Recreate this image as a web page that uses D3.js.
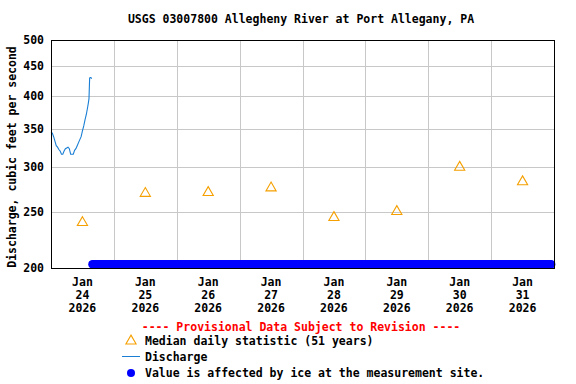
<!DOCTYPE html>
<html>
<head>
<meta charset="utf-8">
<script src="https://cdn.jsdelivr.net/npm/d3@7"></script>
<style>
  body { margin: 0; background: #fff; }
  text { font-family: "DejaVu Sans Mono", monospace; font-weight: bold; font-size: 11.5px; }
</style>
</head>
<body>
<div id="chart"></div>
<script>
// data
const days = ["2026-01-24", "2026-01-25", "2026-01-26", "2026-01-27", "2026-01-28", "2026-01-29", "2026-01-30", "2026-01-31"];
const medianValues = [241, 271, 272, 277, 246, 252, 301, 284];

const dischargeTimes = [
  "00:00", "00:30", "01:00", "01:30", "02:00", "02:30", "03:00", "03:30",
  "04:00", "04:30", "05:00", "05:30", "06:00", "06:30", "07:00", "07:30",
  "08:00", "08:30", "09:00", "09:30", "10:00", "10:30", "11:00", "11:30",
  "12:00", "12:30", "13:00", "13:30", "14:00", "14:15", "14:30", "14:45",
  "15:00", "15:15", "15:30"
];
const dischargeValues = [
  345, 344, 339, 333, 327, 325, 322, 320,
  316, 316, 320, 323, 324, 325, 323, 316,
  316, 316, 321, 323, 327, 331, 335, 339,
  347, 354, 363, 371, 382, 388, 395, 429,
  430, 430, 428
];

// ice-affected period (15-minute readings, drawn at the bottom)
const iceStart = "2026-01-24T15:45";
const iceEnd = "2026-01-31T23:15";
const iceValue = 203;

const yTicks = [200, 250, 300, 350, 400, 450, 500];

const width = 576, height = 384;
const plot = { left: 51, right: 554, top: 40, bottom: 268 };

const parseDay = d3.timeParse("%Y-%m-%d");
const parseTime = d3.timeParse("%Y-%m-%dT%H:%M");

const svg = d3.select("#chart")
    .append("svg")
    .attr("width", width)
    .attr("height", height);

const x = d3.scaleTime()
    .domain([parseDay("2026-01-24"), parseDay("2026-02-01")])
    .range([plot.left, plot.right]);

const y = d3.scaleLog()
    .domain([200, 500])
    .range([plot.bottom, plot.top]);

// grid
svg.append("g")
    .selectAll("line")
    .data(yTicks.slice(1, -1))
    .enter()
    .append("line")
    .attr("x1", plot.left).attr("x2", plot.right)
    .attr("y1", d => Math.round(y(d)) + 0.5).attr("y2", d => Math.round(y(d)) + 0.5)
    .attr("stroke", "#c8c8c8");

svg.append("g")
    .selectAll("line")
    .data(days.slice(1))
    .enter()
    .append("line")
    .attr("x1", d => Math.round(x(parseDay(d))) + 0.5).attr("x2", d => Math.round(x(parseDay(d))) + 0.5)
    .attr("y1", plot.top).attr("y2", plot.bottom)
    .attr("stroke", "#c8c8c8");

// y axis labels
svg.append("g")
    .selectAll("text")
    .data(yTicks)
    .enter()
    .append("text")
    .attr("x", 44)
    .attr("y", d => y(d) + 4)
    .style("text-anchor", "end")
    .text(d => d);

// x axis labels (three lines each)
const xLab = svg.append("g")
    .selectAll("text")
    .data(days)
    .enter()
    .append("text")
    .attr("transform", d => `translate(${x(d3.timeHour.offset(parseDay(d), 12))},286)`)
    .style("text-anchor", "middle");
xLab.append("tspan").attr("x", 0).attr("y", 0).text("Jan");
xLab.append("tspan").attr("x", 0).attr("y", 13).text(d => +d.slice(8));
xLab.append("tspan").attr("x", 0).attr("y", 26).text(d => d.slice(0, 4));

// discharge line
const line = d3.line()
    .x(d => x(d[0]))
    .y(d => y(d[1]));

svg.append("path")
    .datum(dischargeTimes.map((t, i) => [parseTime("2026-01-24T" + t), dischargeValues[i]]))
    .attr("d", line)
    .attr("fill", "none")
    .attr("stroke", "#1a7fd4")
    .attr("stroke-width", 1.1);

// median triangles
const tri = d3.symbol().type(d3.symbolTriangle).size(45);
svg.append("g")
    .selectAll("path")
    .data(days)
    .enter()
    .append("path")
    .attr("d", tri)
    .attr("transform", (d, i) => `translate(${x(d3.timeHour.offset(parseDay(d), 12))},${y(medianValues[i]) + 1})`)
    .attr("fill", "none")
    .attr("stroke", "#f5a000")
    .attr("stroke-width", 1.1);

// ice markers
const iceTimes = d3.timeMinute.every(15).range(parseTime(iceStart), parseTime(iceEnd));
svg.append("g")
    .selectAll("circle")
    .data(iceTimes)
    .enter()
    .append("circle")
    .attr("cx", d => x(d))
    .attr("cy", y(iceValue))
    .attr("r", 4)
    .attr("fill", "#0000ff");

// frame
svg.append("rect")
    .attr("x", plot.left + 0.5).attr("y", plot.top + 0.5)
    .attr("width", plot.right - plot.left).attr("height", plot.bottom - plot.top)
    .attr("fill", "none")
    .attr("stroke", "black");

// title
svg.append("text")
    .attr("x", 301)
    .attr("y", 23)
    .style("text-anchor", "middle")
    .text("USGS 03007800 Allegheny River at Port Allegany, PA");

// y axis title
svg.append("text")
    .attr("transform", "rotate(-90)")
    .attr("x", -157)
    .attr("y", 16)
    .style("text-anchor", "middle")
    .text("Discharge, cubic feet per second");

// provisional notice
svg.append("text")
    .attr("x", 301)
    .attr("y", 331)
    .style("text-anchor", "middle")
    .attr("fill", "#ff0000")
    .text("---- Provisional Data Subject to Revision ----");

// legend
const legend = svg.append("g");
legend.append("path")
    .attr("d", tri)
    .attr("transform", "translate(131,341)")
    .attr("fill", "none")
    .attr("stroke", "#f5a000")
    .attr("stroke-width", 1.1);
legend.append("text").attr("x", 145).attr("y", 345).text("Median daily statistic (51 years)");
legend.append("line")
    .attr("x1", 122).attr("x2", 140)
    .attr("y1", 356.5).attr("y2", 356.5)
    .attr("stroke", "#1a7fd4");
legend.append("text").attr("x", 145).attr("y", 361).text("Discharge");
legend.append("circle")
    .attr("cx", 131).attr("cy", 373)
    .attr("r", 4)
    .attr("fill", "#0000ff");
legend.append("text").attr("x", 145).attr("y", 377).text("Value is affected by ice at the measurement site.");
</script>
</body>
</html>
